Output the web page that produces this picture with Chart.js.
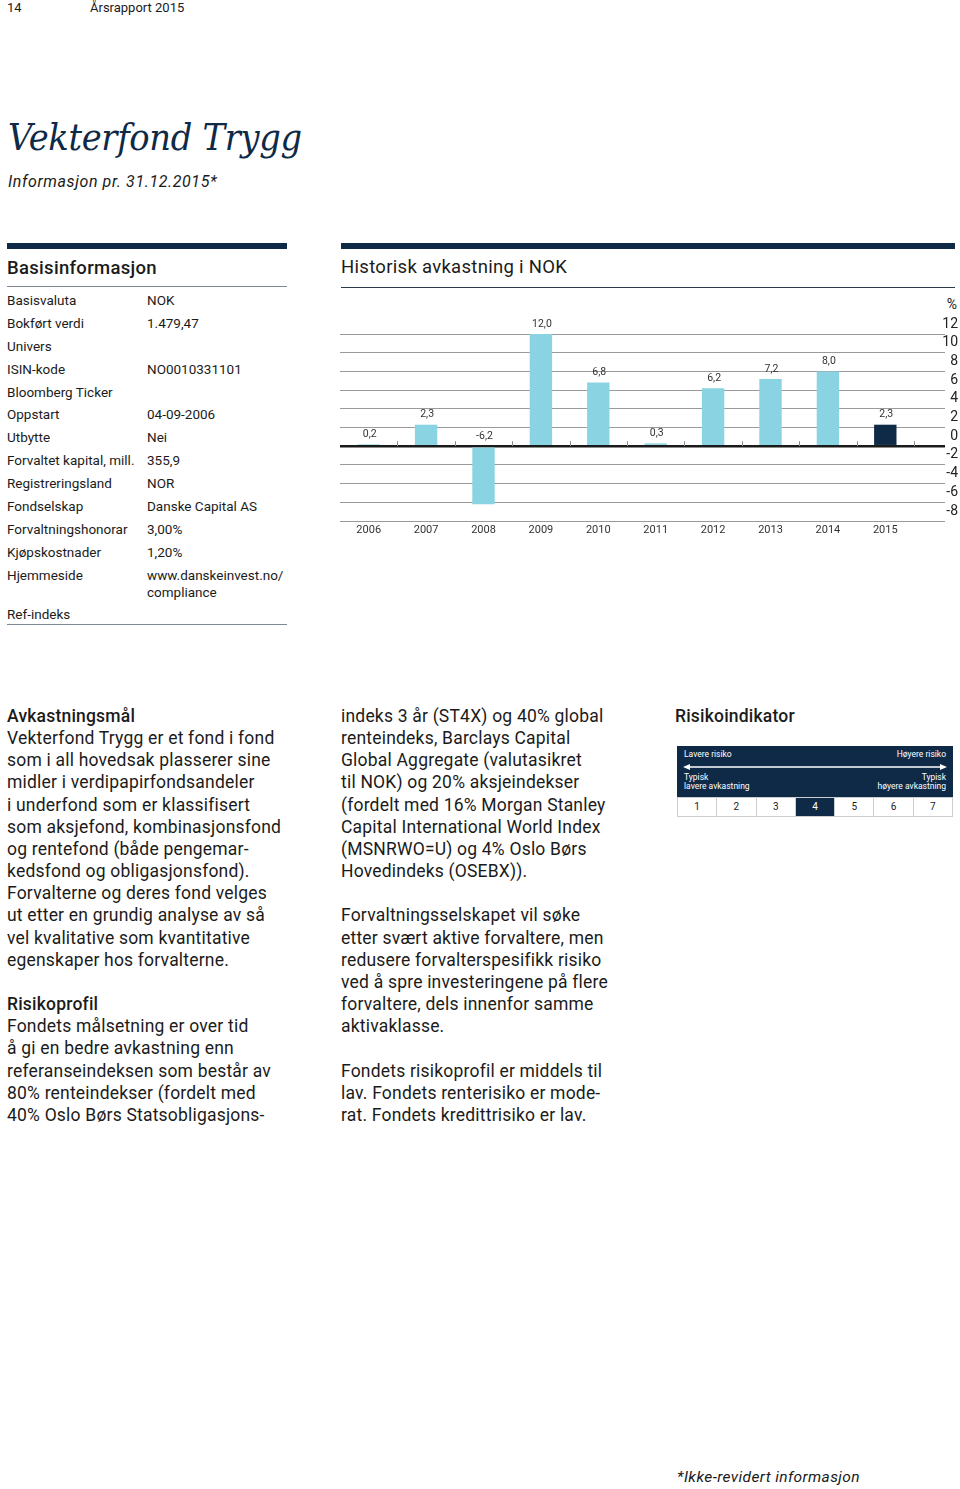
<!DOCTYPE html>
<html>
<head>
<meta charset="utf-8">
<script src="https://cdn.jsdelivr.net/npm/chart.js@4"></script>
<style>
  body { margin: 0; width: 960px; height: 1489px; position: relative; background: #fff;
         font-family: Roboto, "Noto Sans", sans-serif; color: #1b1b1b; overflow: hidden; }
  .abs { position: absolute; white-space: nowrap; }
  .hdr { font-size: 13px; top: 0; }
  .title { left: 8px; top: 115px; font-family: "DejaVu Serif Condensed", "DejaVu Serif", serif; font-style: italic;
           font-size: 37.5px; color: #0e2a47; letter-spacing: -0.3px; }
  .sub { left: 8px; top: 172px; font-style: italic; font-size: 16px; letter-spacing: 0.6px; }
  .bar { position: absolute; height: 6px; background: #0e2a47; top: 243px; }
  .rule { position: absolute; height: 1px; background: #7d8a96; }
  .h2 { font-size: 18.5px; font-weight: 500; letter-spacing: 0.3px; }
  .info { position: absolute; left: 7px; top: 292px; font-size: 13.5px; }
  .info div { height: 22.9px; line-height: 17px; position: relative; white-space: nowrap; }
  .info span { position: absolute; left: 140px; white-space: nowrap; }
  .col { position: absolute; top: 705px; font-size: 17.5px; line-height: 22.15px; white-space: pre; letter-spacing: 0.2px; }
  .col b { font-weight: 500; }
  #chartWrap { position: absolute; left: 340px; top: 300px; width: 618px; height: 245px; }
  .risk { position: absolute; left: 677px; top: 746px; width: 276px; height: 51px; background: #0e2a47;
          color: #fff; font-size: 8.5px; }
  .risk div { position: absolute; line-height: 9px; }
  .cells { position: absolute; left: 677px; top: 797px; width: 276px; height: 20px; display: flex;
           border: 1px solid #c9ced3; box-sizing: border-box; }
  .cells div { flex: 1; text-align: center; font-size: 10px; line-height: 18px; border-left: 1px solid #c9ced3; }
  .cells div:first-child { border-left: none; }
  .cells .on { background: #0e2a47; color: #fff; }
</style>
</head>
<body>
<div class="abs hdr" style="left:7px">14</div>
<div class="abs hdr" style="left:90px">Årsrapport 2015</div>
<div class="abs title">Vekterfond Trygg</div>
<div class="abs sub">Informasjon pr. 31.12.2015*</div>

<div class="bar" style="left:7px;width:280px"></div>
<div class="abs h2" style="left:7px;top:257px">Basisinformasjon</div>
<div class="rule" style="left:7px;width:280px;top:286px"></div>
<div class="info">
  <div>Basisvaluta<span>NOK</span></div>
  <div>Bokført verdi<span>1.479,47</span></div>
  <div>Univers</div>
  <div>ISIN-kode<span>NO0010331101</span></div>
  <div>Bloomberg Ticker</div>
  <div>Oppstart<span>04-09-2006</span></div>
  <div>Utbytte<span>Nei</span></div>
  <div>Forvaltet kapital, mill.<span>355,9</span></div>
  <div>Registreringsland<span>NOR</span></div>
  <div>Fondselskap<span>Danske Capital AS</span></div>
  <div>Forvaltningshonorar<span>3,00%</span></div>
  <div>Kjøpskostnader<span>1,20%</span></div>
  <div style="height:39px">Hjemmeside<span>www.danskeinvest.no/<br>compliance</span></div>
  <div>Ref-indeks</div>
</div>
<div class="rule" style="left:7px;width:280px;top:624px"></div>

<div class="bar" style="left:341px;width:614px"></div>
<div class="abs h2" style="left:341px;top:256px;font-weight:400">Historisk avkastning i NOK</div>
<div class="rule" style="left:341px;width:614px;top:287px;background:#2b3a48"></div>
<div class="abs" style="right:3px;top:296px;font-size:14px">%</div>
<div id="chartWrap"><canvas id="chart"></canvas></div>

<div class="col" style="left:7px"><b>Avkastningsmål</b>
Vekterfond Trygg er et fond i fond
som i all hovedsak plasserer sine
midler i verdipapirfondsandeler
i underfond som er klassifisert
som aksjefond, kombinasjonsfond
og rentefond (både pengemar-
kedsfond og obligasjonsfond).
Forvalterne og deres fond velges
ut etter en grundig analyse av så
vel kvalitative som kvantitative
egenskaper hos forvalterne.

<b>Risikoprofil</b>
Fondets målsetning er over tid
å gi en bedre avkastning enn
referanseindeksen som består av
80% renteindekser (fordelt med
40% Oslo Børs Statsobligasjons-</div>

<div class="col" style="left:341px">indeks 3 år (ST4X) og 40% global
renteindeks, Barclays Capital
Global Aggregate (valutasikret
til NOK) og 20% aksjeindekser
(fordelt med 16% Morgan Stanley
Capital International World Index
(MSNRWO=U) og 4% Oslo Børs
Hovedindeks (OSEBX)).

Forvaltningsselskapet vil søke
etter svært aktive forvaltere, men
redusere forvalterspesifikk risiko
ved å spre investeringene på flere
forvaltere, dels innenfor samme
aktivaklasse.

Fondets risikoprofil er middels til
lav. Fondets renterisiko er mode-
rat. Fondets kredittrisiko er lav.</div>

<div class="col" style="left:675px"><b>Risikoindikator</b></div>
<div class="risk">
  <div style="left:7px;top:4px">Lavere risiko</div>
  <div style="right:7px;top:4px">Høyere risiko</div>
  <svg style="position:absolute;left:6px;top:17px" width="264" height="8">
    <line x1="3" y1="4" x2="261" y2="4" stroke="#fff" stroke-width="1.5"/>
    <polygon points="0,4 7,1 7,7" fill="#fff"/>
    <polygon points="264,4 257,1 257,7" fill="#fff"/>
  </svg>
  <div style="left:7px;top:27px">Typisk<br>lavere avkastning</div>
  <div style="right:7px;top:27px;text-align:right">Typisk<br>høyere avkastning</div>
</div>
<div class="cells" id="cells"></div>

<div class="abs" style="left:677px;top:1468px;font-style:italic;font-size:15.5px;letter-spacing:0.4px">*Ikke-revidert informasjon</div>

<script>
const years = ["2006", "2007", "2008", "2009", "2010", "2011", "2012", "2013", "2014", "2015"];
const returns = [0.2, 2.3, -6.2, 12.0, 6.8, 0.3, 6.2, 7.2, 8.0, 2.3];
const yTicks = [12, 10, 8, 6, 4, 2, 0, -2, -4, -6, -8];
const riskLevels = [1, 2, 3, 4, 5, 6, 7];
const fundRisk = 4;

const LIGHT = "#8ad3e3";
const DARK = "#0e2a47";

const cells = document.getElementById("cells");
riskLevels.forEach(r => {
  const d = document.createElement("div");
  d.textContent = r;
  if (r === fundRisk) d.className = "on";
  cells.appendChild(d);
});

const fmt = v => v.toFixed(1).replace(".", ",");

// value labels above bars + small tick marks on the zero line
const extras = {
  id: "extras",
  afterDatasetsDraw(chart) {
    const { ctx } = chart;
    const x = chart.scales.x, y = chart.scales.y;
    const zero = y.getPixelForValue(0);
    ctx.save();
    ctx.strokeStyle = "#8a8a8a";
    ctx.lineWidth = 1;
    const step = x.getPixelForValue(1) - x.getPixelForValue(0);
    for (let i = 0; i < years.length; i++) {
      const px = Math.round(x.getPixelForValue(i) + step / 2) + 0.5;
      ctx.beginPath();
      ctx.moveTo(px, zero - 5);
      ctx.lineTo(px, zero);
      ctx.stroke();
    }
    ctx.fillStyle = "#333";
    ctx.font = "10.5px Roboto";
    ctx.textAlign = "center";
    ctx.textBaseline = "middle";
    returns.forEach((v, i) => {
      ctx.fillText(fmt(v), x.getPixelForValue(i) + 1, y.getPixelForValue(Math.max(v, 0)) - 10);
    });
    ctx.restore();
  }
};

new Chart(document.getElementById("chart"), {
  type: "bar",
  data: {
    labels: years,
    datasets: [{
      data: returns,
      backgroundColor: years.map((y, i) => i === years.length - 1 ? DARK : LIGHT),
      barPercentage: 0.39,
      categoryPercentage: 1
    }]
  },
  options: {
    responsive: true,
    maintainAspectRatio: false,
    animation: false,
    layout: { padding: { top: 34, left: 0, right: 0, bottom: 0 } },
    plugins: { legend: { display: false }, tooltip: { enabled: false } },
    scales: {
      x: {
        grid: { display: false, drawTicks: false, tickLength: 0 },
        border: { display: false },
        afterFit: s => { s.height = 24; },
        ticks: { color: "#333", font: { size: 11, family: "Roboto" }, padding: 3, maxRotation: 0 }
      },
      y: {
        position: "right",
        min: -8,
        max: 12,
        afterBuildTicks: s => { s.ticks = yTicks.map(v => ({ value: v })); },
        afterFit: s => { s.width = 44; },
        border: { display: false },
        grid: {
          color: c => c.tick && c.tick.value === 0 ? "#1a1a1a" : "#9a9a9a",
          lineWidth: c => c.tick && c.tick.value === 0 ? 2.5 : 1,
          drawTicks: true,
          tickLength: 31
        },
        ticks: {
          color: "#222",
          font: { size: 14, family: "Roboto" },
          padding: 0,
          autoSkip: false,
          labelOffset: -10,
          crossAlign: "far",
          callback: v => String(v)
        }
      }
    }
  },
  plugins: [extras]
});
</script>
</body>
</html>
